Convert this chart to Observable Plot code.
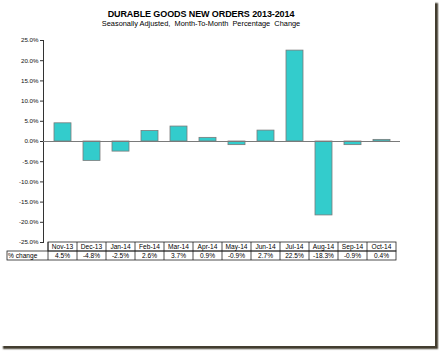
<!DOCTYPE html>
<html>
<head>
<meta charset="utf-8">
<script src="https://cdn.jsdelivr.net/npm/d3@7"></script>
<script src="https://cdn.jsdelivr.net/npm/@observablehq/plot@0.6"></script>
<style>
  html, body { margin: 0; padding: 0; background: #ffffff; }
  #wrap { position: relative; width: 439px; height: 352px; overflow: hidden; font-family: Arial, "Liberation Sans", sans-serif; }
  #card { position: absolute; left: 0; top: 0; width: 435px; height: 346px; background: #fff; box-shadow: 3px 3px 1.5px #433d30; }
  #title { position: absolute; left: 0; width: 402px; top: 9.7px; text-align: center; font-size: 9px; line-height: 9px; font-weight: bold; color: #000; white-space: pre; letter-spacing: -0.1px; }
  #subtitle { position: absolute; left: 0; width: 402px; top: 20.4px; text-align: center; font-size: 7.4px; line-height: 7.4px; color: #000; white-space: pre; }
  #chart { position: absolute; left: 0; top: 0; }
</style>
</head>
<body>
<div id="wrap">
  <div id="card"></div>
  <div id="chart"></div>
  <div id="title"></div>
  <div id="subtitle"></div>
</div>
<script>
const titleText = "DURABLE GOODS NEW ORDERS 2013-2014";
const subtitleText = "Seasonally Adjusted,  Month-To-Month  Percentage  Change";
const months = ["Nov-13","Dec-13","Jan-14","Feb-14","Mar-14","Apr-14","May-14","Jun-14","Jul-14","Aug-14","Sep-14","Oct-14"];
const changes = [4.5, -4.8, -2.5, 2.6, 3.7, 0.9, -0.9, 2.7, 22.5, -18.3, -0.9, 0.4];
const yTicks = [25, 20, 15, 10, 5, 0, -5, -10, -15, -20, -25];
const rowLabel = "% change";

document.getElementById("title").textContent = titleText;
document.getElementById("subtitle").textContent = subtitleText;

const data = months.map((m, i) => ({month: m, value: changes[i]}));
const fmt = d => d.toFixed(1) + "%";

const plot = Plot.plot({
  width: 439,
  height: 352,
  marginTop: 40,
  marginBottom: 110,
  marginLeft: 43,
  marginRight: 39,
  style: {background: "transparent", fontFamily: "Arial, 'Liberation Sans', sans-serif", color: "#111", overflow: "visible"},
  x: {domain: months, paddingInner: 0.43, paddingOuter: 0.215, axis: null},
  y: {domain: [-25, 25], axis: null},
  marks: [
    Plot.axisY(yTicks, {tickSize: 3, tickPadding: 2, tickFormat: fmt, label: null, fontSize: 6.2, stroke: "#333"}),
    Plot.frame({anchor: "left", stroke: "#333"}),
    Plot.barY(data, {x: "month", y: "value", fill: "#33CCCC", stroke: "#7a7a7a", strokeWidth: 0.8}),
    Plot.ruleY([0], {stroke: "#7a7a7a"})
  ]
});
document.getElementById("chart").appendChild(plot);

// data table under the chart, aligned to the x band scale
const xs = plot.scale("x");
const svg = d3.select(plot);
const top0 = 352 - 110;
const rowH = 9;
const g = svg.append("g").attr("font-family", "Arial, 'Liberation Sans', sans-serif").attr("font-size", 6.6).attr("fill", "#000").attr("text-anchor", "middle");
const cell = m => {
  const c = xs.apply(m) + xs.bandwidth / 2;
  return [c - xs.step / 2, c + xs.step / 2, c];
};
const left0 = cell(months[0])[0];
const right0 = cell(months[months.length - 1])[1];
const labelLeft = 7;
// borders
const lines = g.append("g").attr("stroke", "#222").attr("stroke-width", 0.8).attr("fill", "none");
lines.append("rect").attr("x", left0).attr("y", top0).attr("width", right0 - left0).attr("height", rowH);
lines.append("rect").attr("x", labelLeft).attr("y", top0 + rowH).attr("width", right0 - labelLeft).attr("height", rowH);
months.forEach((m, i) => {
  const [l] = cell(m);
  lines.append("line").attr("x1", l).attr("x2", l).attr("y1", top0).attr("y2", top0 + 2 * rowH);
});
// texts
months.forEach((m, i) => {
  const c = cell(m)[2];
  g.append("text").attr("x", c).attr("y", top0 + 6.8).attr("text-anchor", "middle").text(m);
  g.append("text").attr("x", c).attr("y", top0 + rowH + 6.8).attr("text-anchor", "middle").text(fmt(changes[i]));
});
g.append("text").attr("x", labelLeft + 1).attr("y", top0 + rowH + 6.8).attr("text-anchor", "start").text(rowLabel);
</script>
</body>
</html>
